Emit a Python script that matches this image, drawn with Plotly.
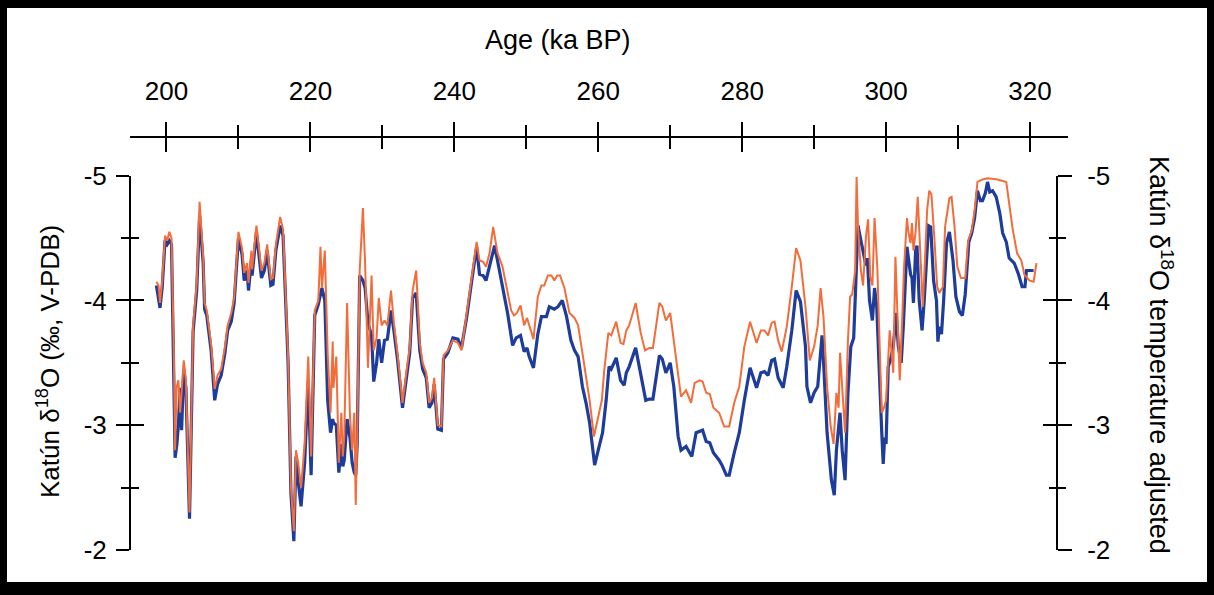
import plotly.graph_objects as go

# ---------------- data ----------------
blue_age = [198.6, 198.8, 199.1, 199.4, 199.8, 200.1, 200.4, 200.7, 201.0, 201.2, 201.45, 201.65, 201.9, 202.1,
            202.4, 202.7, 203.2, 203.7, 204.2, 204.6, 205.1, 205.3, 205.6, 206.2, 206.7, 207.1, 207.6, 208.1,
            208.5, 209.0, 209.4, 210.0, 210.5, 210.8, 211.2, 211.4, 211.8, 211.9, 212.5, 212.9, 213.2, 213.6,
            214.0, 214.2, 214.5, 214.8, 215.2, 215.8, 216.2, 216.9, 217.3, 217.7, 218.0, 218.3, 218.7, 219.2,
            219.7, 220.1, 220.6, 221.1, 221.4, 221.6, 222.0, 222.4, 222.8, 223.1, 223.2, 223.6, 223.95, 224.3,
            224.5, 224.7, 225.1, 225.5, 225.8, 226.1, 226.3, 226.5, 226.85, 227.3, 227.6, 228.0, 228.5, 228.8,
            229.2, 229.5, 229.9, 230.3, 230.7, 231.2, 231.6, 232.1, 232.8, 233.5, 233.8, 234.2, 234.7, 235.2,
            235.6, 236.1, 236.5, 236.9, 237.2, 237.7, 238.2, 238.5, 239.1, 239.8, 240.5, 241.0, 241.7, 242.4,
            243.1, 243.5, 244.0, 244.4, 244.9, 245.6, 246.0, 246.7, 247.4, 248.1, 248.6, 249.2, 249.7, 250.1,
            250.4, 251.0, 251.6, 252.1, 252.8, 253.2, 253.9, 254.4, 255.0, 255.6, 256.2, 256.7, 257.2, 257.8,
            258.3, 258.8, 259.5, 260.0, 260.6, 261.1, 261.5, 261.8, 262.5, 263.1, 263.6, 263.9, 264.3, 265.2,
            265.9, 266.6, 267.1, 267.6, 268.5, 268.9, 269.4, 270.0, 270.5, 271.1, 271.5, 272.2, 273.0, 273.6,
            274.5, 275.0, 275.5, 276.0, 276.8, 277.2, 277.8, 278.2, 278.9, 279.6, 280.3, 281.1, 282.0, 282.6,
            283.1, 283.6, 284.1, 284.5, 285.0, 285.7, 286.2, 286.9, 287.5, 288.1, 288.8, 289.0, 289.5, 290.0,
            290.5, 291.1, 291.3, 291.8, 292.4, 292.8, 293.1, 293.6, 293.9, 294.3, 294.7, 295.1, 295.5, 295.8,
            296.1, 296.5, 297.0, 297.2, 297.4, 297.7, 298.1, 298.4, 298.7, 299.1, 299.4, 299.6, 299.8, 300.0,
            300.3, 300.6, 301.0, 301.4, 301.7, 302.1, 302.4, 302.9, 303.2, 303.4, 303.6, 303.8, 304.1, 304.3,
            304.6, 305.0, 305.3, 305.6, 305.9, 306.2, 306.6, 307.0, 307.2, 307.4, 307.7, 308.0, 308.4, 308.8,
            309.3, 309.7, 310.2, 310.6, 311.0, 311.5, 311.9, 312.3, 312.7, 313.1, 313.4, 313.8, 314.1, 314.4,
            314.8, 315.3, 315.8, 316.2, 316.7, 317.1, 317.8, 318.4, 318.9, 319.3, 319.5, 320.5]
blue_val = [-4.12, -4.05, -3.94, -4.10, -4.48, -4.45, -4.48, -4.45, -3.60, -2.74, -2.85, -3.00, -3.30, -2.96,
            -3.45, -3.30, -2.25, -3.75, -4.08, -4.68, -4.30, -3.93, -3.88, -3.60, -3.20, -3.33, -3.40, -3.57,
            -3.76, -3.83, -3.98, -4.50, -4.37, -4.16, -4.24, -4.08, -4.33, -4.20, -4.55, -4.35, -4.18, -4.24,
            -4.40, -4.28, -4.12, -4.13, -4.40, -4.60, -4.52, -3.50, -2.45, -2.07, -2.75, -2.55, -2.35, -2.70,
            -3.35, -2.60, -3.88, -3.97, -4.06, -4.10, -4.00, -3.20, -2.94, -3.05, -3.02, -3.00, -2.62, -2.85,
            -2.67, -2.72, -3.05, -2.90, -2.70, -2.62, -2.60, -2.85, -4.20, -4.16, -4.10, -3.82, -3.72, -3.35,
            -3.50, -3.69, -3.50, -3.68, -3.69, -3.92, -3.76, -3.53, -3.14, -3.45, -3.58, -4.02, -4.06, -3.60,
            -3.45, -3.38, -3.14, -3.18, -3.33, -2.97, -2.96, -3.53, -3.58, -3.70, -3.69, -3.62, -3.86, -4.15,
            -4.43, -4.21, -4.20, -4.16, -4.27, -4.44, -4.32, -4.11, -3.90, -3.64, -3.70, -3.72, -3.59, -3.62,
            -3.55, -3.46, -3.73, -3.87, -3.87, -3.95, -3.93, -3.95, -4.00, -3.87, -3.68, -3.60, -3.55, -3.31,
            -3.18, -3.02, -2.68, -2.80, -2.94, -3.20, -3.47, -3.45, -3.54, -3.36, -3.32, -3.42, -3.47, -3.62,
            -3.42, -3.20, -3.21, -3.21, -3.56, -3.53, -3.42, -3.50, -3.31, -2.91, -2.80, -2.83, -2.75, -2.94,
            -2.96, -2.87, -2.86, -2.78, -2.72, -2.68, -2.60, -2.60, -2.78, -2.94, -3.20, -3.46, -3.30, -3.42,
            -3.43, -3.40, -3.52, -3.53, -3.38, -3.30, -3.47, -3.76, -4.08, -3.99, -3.63, -3.31, -3.18, -3.26,
            -3.31, -3.72, -3.52, -2.94, -2.56, -2.44, -2.80, -3.10, -2.80, -2.56, -3.26, -3.63, -3.70, -4.11,
            -4.60, -4.48, -4.35, -4.28, -4.34, -4.00, -3.84, -4.10, -3.95, -3.28, -2.94, -2.69, -2.90, -2.85,
            -3.47, -3.52, -3.63, -3.90, -3.63, -3.50, -3.80, -4.43, -4.32, -4.21, -4.18, -3.98, -4.40, -4.44,
            -4.00, -3.76, -4.00, -4.35, -4.60, -4.59, -4.16, -4.00, -3.67, -3.79, -3.73, -4.00, -4.46, -4.55,
            -4.32, -4.03, -3.91, -3.88, -4.05, -4.47, -4.54, -4.66, -4.88, -4.80, -4.80, -4.86, -4.95, -4.87,
            -4.88, -4.83, -4.70, -4.54, -4.47, -4.34, -4.30, -4.21, -4.11, -4.11, -4.24, -4.24]

orange_age = [198.6, 198.9, 199.1, 199.4, 199.8, 200.1, 200.4, 200.7, 201.0, 201.2, 201.4, 201.65, 201.9, 202.1,
              202.4, 202.7, 203.2, 203.7, 204.2, 204.6, 205.1, 205.3, 205.6, 206.2, 206.7, 207.1, 207.6, 208.1,
              208.5, 209.0, 209.4, 210.0, 210.5, 210.8, 211.2, 211.4, 211.8, 211.9, 212.5, 212.9, 213.2, 213.6,
              214.0, 214.2, 214.5, 214.8, 215.2, 215.8, 216.2, 216.9, 217.3, 217.7, 218.0, 218.3, 218.7, 219.2,
              219.7, 220.1, 220.6, 221.1, 221.4, 221.6, 222.0, 222.4, 222.8, 223.1, 223.2, 223.6, 223.95, 224.3,
              224.5, 224.7, 225.1, 225.5, 225.8, 226.1, 226.3, 226.5, 226.85, 227.3, 227.6, 228.0, 228.5, 228.8,
              229.2, 229.5, 229.9, 230.3, 230.7, 231.2, 231.6, 232.1, 232.8, 233.5, 233.8, 234.2, 234.7, 235.2,
              235.6, 236.1, 236.5, 236.9, 237.2, 237.7, 238.2, 238.5, 239.1, 239.8, 240.5, 241.0, 241.7, 242.4,
              243.1, 243.5, 244.0, 244.4, 244.9, 245.4, 246.0, 246.7, 247.4, 247.9, 248.3, 248.7, 249.2, 249.7,
              250.1, 250.7, 251.0, 251.6, 252.1, 252.5, 253.0, 253.5, 253.9, 254.3, 254.7, 255.3, 256.0, 256.7,
              257.2, 257.8, 258.5, 258.8, 259.4, 260.0, 260.5, 260.8, 261.4, 261.8, 262.5, 263.1, 263.5, 263.9,
              264.3, 265.2, 265.9, 266.5, 267.1, 267.6, 268.5, 268.9, 269.4, 270.0, 270.6, 271.1, 271.5, 272.2,
              272.9, 273.4, 274.1, 274.5, 275.0, 275.5, 276.0, 276.8, 277.5, 278.2, 278.9, 279.6, 280.3, 281.1,
              282.0, 282.6, 283.1, 283.6, 284.1, 284.5, 285.0, 285.5, 286.2, 286.9, 287.5, 288.1, 288.8, 289.4,
              290.0, 290.5, 290.9, 291.3, 291.8, 292.3, 292.7, 293.1, 293.4, 293.6, 294.0, 294.3, 294.7, 295.0,
              295.3, 295.7, 295.9, 296.1, 296.5, 296.8, 297.2, 297.5, 297.8, 298.1, 298.4, 298.8, 299.0, 299.4,
              299.7, 300.0, 300.5, 300.7, 301.0, 301.3, 301.7, 301.9, 302.2, 302.5, 302.9, 303.1, 303.4, 303.6,
              303.8, 304.1, 304.4, 304.8, 305.1, 305.4, 305.7, 306.0, 306.3, 306.7, 307.1, 307.4, 307.9, 308.2,
              308.8, 309.1, 309.5, 309.9, 310.4, 311.0, 311.4, 311.9, 312.3, 312.7, 313.4, 314.1, 315.5, 316.7,
              317.1, 317.6, 318.2, 318.8, 319.2, 319.9, 320.5, 320.9]
orange_val = [-4.15, -4.12, -3.98, -4.15, -4.52, -4.48, -4.55, -4.50, -3.65, -2.80, -3.30, -3.36, -3.10, -3.30,
              -3.52, -3.36, -2.30, -3.80, -4.14, -4.79, -4.35, -3.98, -3.92, -3.65, -3.29, -3.40, -3.45, -3.62,
              -3.80, -3.90, -4.02, -4.55, -4.42, -4.22, -4.30, -4.14, -4.40, -4.25, -4.60, -4.40, -4.24, -4.30,
              -4.45, -4.32, -4.17, -4.18, -4.45, -4.67, -4.57, -3.55, -2.50, -2.15, -2.80, -2.70, -2.50, -2.85,
              -3.55, -2.75, -3.92, -4.00, -4.43, -4.10, -4.40, -3.58, -3.10, -3.67, -3.30, -3.55, -2.70, -3.10,
              -2.75, -2.90, -3.98, -3.07, -2.80, -3.10, -2.36, -2.90, -4.24, -4.74, -4.30, -3.46, -4.20, -3.60,
              -3.70, -4.02, -3.80, -3.84, -3.80, -4.08, -3.82, -3.58, -3.18, -3.50, -3.62, -4.08, -4.24, -3.66,
              -3.50, -3.42, -3.18, -3.22, -3.38, -3.00, -2.99, -3.56, -3.60, -3.68, -3.66, -3.60, -3.88, -4.17,
              -4.47, -4.32, -4.31, -4.27, -4.38, -4.59, -4.38, -4.27, -4.08, -3.92, -3.88, -3.90, -3.96, -3.80,
              -3.86, -3.74, -3.69, -4.03, -4.12, -4.12, -4.20, -4.20, -4.16, -4.20, -4.20, -4.10, -3.90, -3.86,
              -3.80, -3.58, -3.31, -3.20, -2.91, -3.07, -3.20, -3.42, -3.74, -3.72, -3.83, -3.66, -3.65, -3.76,
              -3.80, -3.98, -3.74, -3.60, -3.62, -3.62, -3.98, -3.95, -3.84, -3.90, -3.63, -3.39, -3.23, -3.28,
              -3.18, -3.34, -3.36, -3.35, -3.26, -3.25, -3.14, -3.10, -2.99, -2.99, -3.18, -3.31, -3.63, -3.83,
              -3.66, -3.76, -3.76, -3.72, -3.82, -3.83, -3.68, -3.59, -3.79, -4.11, -4.42, -4.32, -3.95, -3.52,
              -3.63, -3.80, -4.10, -3.87, -3.31, -2.99, -2.85, -3.26, -3.14, -3.58, -3.20, -2.94, -3.68, -4.03,
              -4.05, -4.24, -4.99, -4.59, -4.24, -4.12, -4.51, -4.65, -4.19, -4.12, -4.66, -4.24, -3.84, -3.10,
              -3.14, -3.20, -3.76, -3.60, -3.42, -4.35, -3.74, -3.36, -3.79, -4.27, -4.66, -4.55, -4.46, -4.62,
              -4.40, -4.55, -4.83, -4.32, -3.95, -4.32, -4.72, -4.88, -4.85, -4.51, -4.11, -4.06, -4.11, -4.59,
              -4.82, -4.83, -4.60, -4.27, -4.18, -4.18, -4.48, -4.56, -4.72, -4.95, -4.97, -4.98, -4.97, -4.95,
              -4.78, -4.57, -4.38, -4.32, -4.21, -4.16, -4.15, -4.30]

x_tickvals = [200, 220, 240, 260, 280, 300, 320]
x_ticktext = ["200", "220", "240", "260", "280", "300", "320"]
x_minor = [210, 230, 250, 270, 290, 310]
y_tickvals = [-5, -4, -3, -2]
y_ticktext = ["-5", "-4", "-3", "-2"]
y_minor = [-4.5, -3.5, -2.5]

x_title = "Age (ka BP)"
y_title_left = "Katún δ<sup>18</sup>O (‰, V-PDB)"
y_title_right = "Katún δ<sup>18</sup>O temperature adjusted"

# ---------------- layout geometry ----------------
W, H = 1214, 595
L, R, T, B = 130, 146, 137, 45
pw, ph = W - L - R, H - T - B


def px2x(px):
    return (px - L) / pw


def py2y(py):
    return (H - B - py) / ph


FONT = "Liberation Sans, Arial, sans-serif"
BLUE = "#1d3c9c"
ORANGE = "#f46c3a"
XRANGE = [194.93, 325.28]
YRANGE = [-2, -5]
YDOM = [0, py2y(175.7)]

fig = go.Figure()
fig.add_trace(go.Scatter(x=blue_age, y=blue_val, mode="lines",
                         line=dict(color=BLUE, width=3.2), showlegend=False))
fig.add_trace(go.Scatter(x=orange_age, y=orange_val, mode="lines",
                         line=dict(color=ORANGE, width=2), showlegend=False))
# placeholder traces so the overlay axes (used for crossing ticks) exist
for xa, ya in [("x2", "y"), ("x", "y2"), ("x", "y3"), ("x", "y4")]:
    fig.add_trace(go.Scatter(x=[None], y=[None], xaxis=xa, yaxis=ya,
                             showlegend=False, hoverinfo="skip"))

tickfont = dict(family=FONT, size=26, color="black")

xcommon = dict(range=XRANGE, side="top", anchor="free", position=1,
               tickmode="array", tickvals=x_tickvals, showgrid=False, zeroline=False,
               tickwidth=2, tickcolor="black")
ycommon = dict(range=YRANGE, domain=YDOM, anchor="free", tickmode="array",
               tickvals=y_tickvals, showgrid=False, zeroline=False,
               tickwidth=2, tickcolor="black")

fig.update_layout(
    width=W, height=H,
    margin=dict(l=L, r=R, t=T, b=B, pad=0),
    paper_bgcolor="white", plot_bgcolor="white",
    font=dict(family=FONT, color="black"),
    xaxis=dict(**xcommon, ticks="outside", ticklen=14, ticktext=x_ticktext,
               showline=True, linewidth=2, linecolor="black",
               tickfont=tickfont, ticklabelstandoff=12,
               minor=dict(tickvals=x_minor, ticks="outside", ticklen=11,
                          tickwidth=2, tickcolor="black")),
    xaxis2=dict(**xcommon, overlaying="x", ticks="inside", ticklen=14,
                showticklabels=False, showline=False,
                minor=dict(tickvals=x_minor, ticks="inside", ticklen=11,
                           tickwidth=2, tickcolor="black")),
    yaxis=dict(**ycommon, position=0, side="left", ticks="outside", ticklen=13,
               ticktext=y_ticktext, showline=True, linewidth=2, linecolor="black",
               tickfont=tickfont, ticklabelstandoff=4,
               minor=dict(tickvals=y_minor, ticks="outside", ticklen=8,
                          tickwidth=2, tickcolor="black")),
    yaxis3=dict(**ycommon, overlaying="y", position=0, side="left", ticks="inside",
                ticklen=13, showticklabels=False, showline=False,
                minor=dict(tickvals=y_minor, ticks="inside", ticklen=8,
                           tickwidth=2, tickcolor="black")),
    yaxis2=dict(**ycommon, overlaying="y", position=px2x(1057), side="right",
                ticks="outside", ticklen=14, ticktext=y_ticktext,
                showline=True, linewidth=2, linecolor="black",
                tickfont=tickfont, ticklabelstandoff=10,
                minor=dict(tickvals=y_minor, ticks="outside", ticklen=8,
                           tickwidth=2, tickcolor="black")),
    yaxis4=dict(**ycommon, overlaying="y", position=px2x(1057), side="right",
                ticks="inside", ticklen=14, showticklabels=False, showline=False,
                minor=dict(tickvals=y_minor, ticks="inside", ticklen=8,
                           tickwidth=2, tickcolor="black")),
)

fig.add_annotation(text=x_title, xref="paper", yref="paper", x=px2x(558), y=py2y(40),
                   showarrow=False, font=dict(family=FONT, size=27, color="black"),
                   xanchor="center", yanchor="middle")
fig.add_annotation(text=y_title_left, xref="paper", yref="paper", x=px2x(48), y=py2y(362),
                   showarrow=False, textangle=-90, font=dict(family=FONT, size=26, color="black"),
                   xanchor="center", yanchor="middle")
fig.add_annotation(text=y_title_right, xref="paper", yref="paper", x=px2x(1161), y=py2y(355),
                   showarrow=False, textangle=90, font=dict(family=FONT, size=27, color="black"),
                   xanchor="center", yanchor="middle")

# black frame around the picture
for (x0, y0, x1, y1) in [(0, 0, W, 8), (0, 0, 7, H), (W - 7, 0, W, H), (0, H - 13, W, H)]:
    fig.add_shape(type="rect", xref="paper", yref="paper",
                  x0=px2x(x0), x1=px2x(x1), y0=py2y(y0), y1=py2y(y1),
                  fillcolor="black", line=dict(width=0), layer="above")

fig.write_html("out.html")
